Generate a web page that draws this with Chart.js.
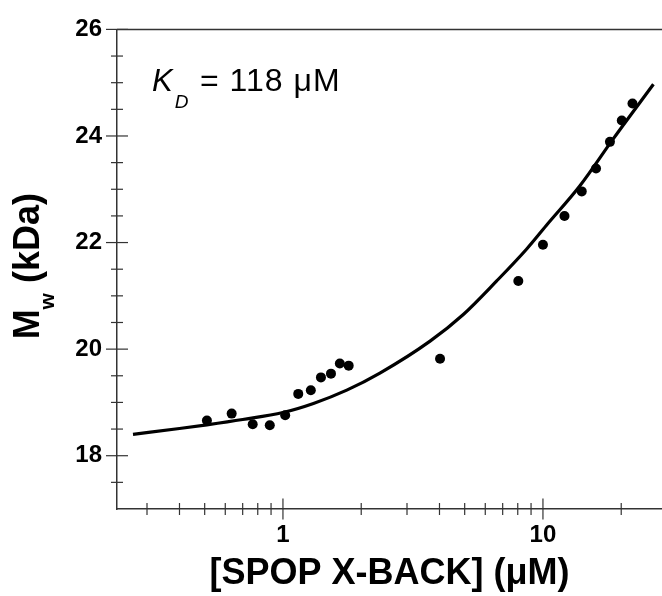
<!DOCTYPE html>
<html>
<head>
<meta charset="utf-8">
<script src="https://cdn.jsdelivr.net/npm/chart.js@4"></script>
<style>
html, body { margin: 0; padding: 0; background: #fff; }
canvas { display: block; }
</style>
</head>
<body>
<canvas id="chart" width="662" height="596"></canvas>
<script>
// measured points: [SPOP X-BACK] (uM) vs Mw (kDa)
var concentrations = [0.51, 0.635, 0.765, 0.89, 1.02, 1.145, 1.28, 1.40, 1.53, 1.655, 1.79, 4.02, 8.04, 10.0, 12.1, 14.1, 16.0, 18.1, 20.1, 22.1];
var massValues = [18.66, 18.79, 18.59, 18.57, 18.76, 19.16, 19.23, 19.47, 19.54, 19.73, 19.69, 19.82, 21.28, 21.96, 22.50, 22.96, 23.39, 23.89, 24.29, 24.61];

// fitted curve
var fitX = [0.265, 0.40, 0.51, 0.70, 1.0, 1.31, 1.76, 2.36, 3.68, 4.94, 6.64, 8.66, 10.3, 13.9, 18.6, 26.6];
var fitY = [18.40, 18.51, 18.58, 18.68, 18.81, 18.98, 19.23, 19.55, 20.15, 20.65, 21.28, 21.88, 22.32, 23.07, 23.94, 24.97];

// axis ticks
var xTicks = [0.3, 0.4, 0.5, 0.6, 0.7, 0.8, 0.9, 1, 2, 3, 4, 5, 6, 7, 8, 9, 10, 20];
var xLabels = [1, 10];
var yTicks = [17, 17.5, 18, 18.5, 19, 19.5, 20, 20.5, 21, 21.5, 22, 22.5, 23, 23.5, 24, 24.5, 25, 25.5, 26];
var yLabels = [18, 20, 22, 24, 26];

var FONT = 'Arial, "Liberation Sans", sans-serif';
var AXIS_COLOR = '#333';

function toPoints(xs, ys){
	var pts = [];
	for(var i = 0; i < xs.length; i++){
		pts.push({x: xs[i], y: ys[i]});
	}
	return pts;
}

// ticks that cross the axis line, plus the top frame, titles and K_D note
var decorations = {
	id: 'decorations',
	afterDraw: function(chart){
		var ctx = chart.ctx;
		var area = chart.chartArea;
		var xs = chart.scales.x, ys = chart.scales.y;
		ctx.save();
		ctx.strokeStyle = AXIS_COLOR;
		ctx.lineWidth = 1.5;

		// top frame
		ctx.beginPath();
		ctx.moveTo(area.left, area.top);
		ctx.lineTo(area.right, area.top);
		ctx.stroke();

		ctx.lineWidth = 1.2;
		xTicks.forEach(function(v){
			var px = xs.getPixelForValue(v);
			var half = xLabels.indexOf(v) >= 0 ? 10.5 : 6;
			ctx.beginPath();
			ctx.moveTo(px, area.bottom - half);
			ctx.lineTo(px, area.bottom + half);
			ctx.stroke();
		});
		yTicks.forEach(function(v){
			if(v === 17) return;
			var py = ys.getPixelForValue(v);
			var half = yLabels.indexOf(v) >= 0 ? 11 : 6;
			ctx.beginPath();
			ctx.moveTo(area.left - half, py);
			ctx.lineTo(area.left + half, py);
			ctx.stroke();
		});

		// y title with subscript, rotated
		ctx.fillStyle = '#000';
		ctx.textBaseline = 'alphabetic';
		var mainFont = 'bold 36px ' + FONT;
		var subFont = 'bold 21px ' + FONT;
		ctx.font = mainFont;
		var wM = ctx.measureText('M').width;
		var wRest = ctx.measureText(' (kDa)').width;
		ctx.font = subFont;
		var wSub = ctx.measureText('w').width;
		var total = wM + wSub + wRest;
		var cy = (area.top + area.bottom) / 2 - 3;
		ctx.translate(39, cy);
		ctx.rotate(-Math.PI / 2);
		var x0 = -total / 2;
		ctx.font = mainFont;
		ctx.fillText('M', x0, 0);
		ctx.font = subFont;
		ctx.fillText('w', x0 + wM, 15);
		ctx.font = mainFont;
		ctx.fillText(' (kDa)', x0 + wM + wSub, 0);
		ctx.setTransform(1, 0, 0, 1, 0, 0);

		// K_D annotation
		var ax = area.left + 35, ay = area.top + 62;
		ctx.font = 'italic 31px ' + FONT;
		ctx.fillText('K', ax, ay);
		var wK = ctx.measureText('K').width;
		ctx.font = 'italic 19px ' + FONT;
		ctx.fillText('D', ax + wK + 2, ay + 17);
		ctx.font = '32px ' + FONT;
		ctx.letterSpacing = '1px';
		ctx.fillText('= 118 \u03BCM', ax + 48, ay);
		ctx.letterSpacing = '0px';
		ctx.restore();
	}
};

var chart = new Chart(document.getElementById('chart'), {
	type: 'scatter',
	data: {
		datasets: [
			{
				label: 'fit',
				data: toPoints(fitX, fitY),
				showLine: true,
				borderColor: '#000',
				borderWidth: 3.2,
				pointRadius: 0,
				cubicInterpolationMode: 'monotone',
				fill: false,
				clip: false,
				order: 2
			},
			{
				label: 'Mw',
				data: toPoints(concentrations, massValues),
				showLine: false,
				backgroundColor: '#000',
				borderColor: '#000',
				pointRadius: 5,
				pointBorderWidth: 0,
				order: 1
			}
		]
	},
	options: {
		responsive: false,
		animation: false,
		events: [],
		layout: {autoPadding: false, padding: {top: 28, right: 0, left: 0, bottom: 0}},
		plugins: {legend: {display: false}, tooltip: {enabled: false}},
		scales: {
			x: {
				type: 'logarithmic',
				min: 0.23,
				max: 28.7,
				afterBuildTicks: function(scale){
					scale.ticks = xTicks.map(function(v){ return {value: v, major: xLabels.indexOf(v) >= 0}; });
				},
				afterFit: function(scale){ scale.height = 87; },
				grid: {display: false, drawTicks: false},
				border: {display: true, color: AXIS_COLOR, width: 1.5},
				ticks: {
					autoSkip: false,
					maxRotation: 0,
					padding: 12,
					color: '#000',
					font: {family: FONT, size: 24, weight: 'bold'},
					callback: function(value){
						return xLabels.indexOf(value) >= 0 ? String(value) : '';
					}
				},
				title: {
					display: true,
					text: '[SPOP X-BACK] (\u03BCM)',
					color: '#000',
					padding: {top: 0, bottom: 0},
					font: {family: FONT, size: 36, weight: 'bold'}
				}
			},
			y: {
				min: 17,
				max: 26,
				afterBuildTicks: function(scale){
					scale.ticks = yTicks.map(function(v){ return {value: v}; });
				},
				afterFit: function(scale){ scale.width = 117; },
				grid: {display: false, drawTicks: false},
				border: {display: true, color: AXIS_COLOR, width: 1.5},
				ticks: {
					autoSkip: false,
					padding: 15,
					color: '#000',
					font: {family: FONT, size: 24, weight: 'bold'},
					callback: function(value){
						return yLabels.indexOf(value) >= 0 ? String(value) : '';
					}
				}
			}
		}
	},
	plugins: [decorations]
});
</script>
</body>
</html>
